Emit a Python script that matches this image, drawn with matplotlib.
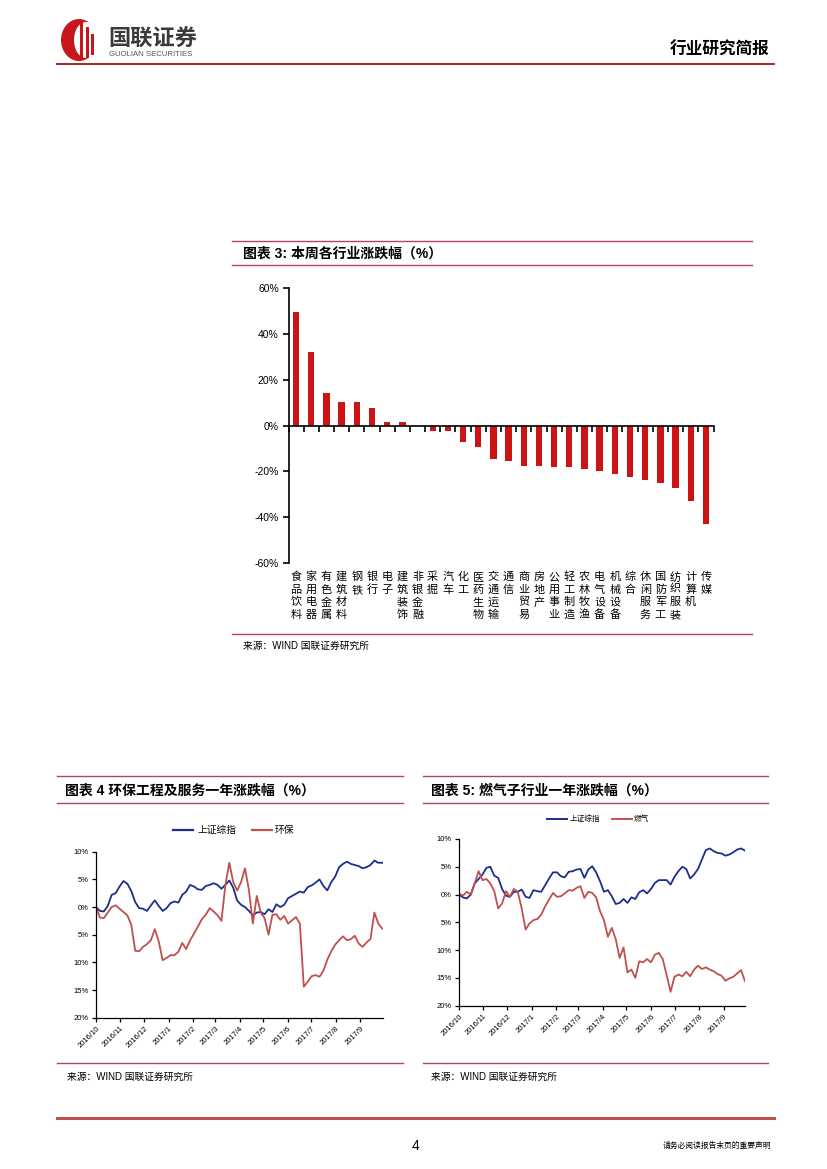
import matplotlib
matplotlib.use('Agg')
import matplotlib.pyplot as plt
from matplotlib.lines import Line2D
from matplotlib.patches import Ellipse, Rectangle
import matplotlib.transforms as mtransforms
import numpy as np
import pandas as pd

plt.rcParams['font.family'] = ['Liberation Sans', 'Noto Sans CJK SC', 'DejaVu Sans']

# ---------------- data ----------------
industries = ['食品饮料', '家用电器', '有色金属', '建筑材料', '钢铁', '银行', '电子', '建筑装饰',
              '非银金融', '采掘', '汽车', '化工', '医药生物', '交通运输', '通信', '商业贸易',
              '房地产', '公用事业', '轻工制造', '农林牧渔', '电气设备', '机械设备', '综合',
              '休闲服务', '国防军工', '纺织服装', '计算机', '传媒']
weekly_change = [49.7, 32.2, 14.3, 10.4, 10.4, 7.8, 1.7, 1.7,
                 0.0, -2.5, -2.5, -7.4, -9.6, -14.7, -15.4, -17.6,
                 -17.6, -18.1, -18.1, -19.0, -19.9, -21.2, -22.5,
                 -24.0, -25.2, -27.4, -33.2, -43.0]
y3_ticks = [-60, -40, -20, 0, 20, 40, 60]

# chart 4: 上证综指 vs 环保 (approx. 5-day samples)
sz4 = [0, -0.7, -0.8, 0.2, 2.2, 2.5, 3.7, 4.7, 4.2, 2.9,
       0.9, -0.2, -0.3, -0.7, 0.3, 1.2, 0.2, -0.7, -0.2, 0.7,
       1.0, 0.8, 2.2, 2.8, 4.0, 3.7, 3.2, 3.1, 3.8, 4.0,
       4.3, 4.0, 3.3, 4.0, 4.8, 3.5, 1.2, 0.4, 0.0, -0.7,
       -1.5, -1.0, -0.9, -1.3, -0.4, -0.9, 0.5, 0.0, 0.4, 1.6,
       2.0, 2.4, 2.8, 2.6, 3.6, 3.9, 4.4, 5.0, 3.8, 3.0,
       4.5, 5.5, 7.2, 7.8, 8.2, 7.8, 7.6, 7.4, 7.0, 7.2,
       7.6, 8.4, 8.0, 8.0]
hb4 = [0, -1.9, -2.0, -1.0, 0.0, 0.3, -0.3, -0.9, -1.5, -3.2,
       -7.9, -8.0, -7.2, -6.7, -6.0, -4.0, -6.2, -9.6, -9.2, -8.7,
       -8.7, -8.1, -6.5, -7.6, -6.0, -4.8, -3.5, -2.2, -1.4, -0.2,
       -0.8, -1.5, -2.5, 4.0, 8.0, 4.5, 3.0, 4.5, 7.0, 3.1,
       -3.0, 2.0, -1.0, -2.0, -5.0, -1.4, -1.3, -2.3, -1.6, -3.0,
       -2.4, -1.8, -3.0, -14.4, -13.5, -12.5, -12.3, -12.6, -11.5, -9.5,
       -8.0, -6.8, -6.0, -5.3, -6.0, -5.8, -5.2, -6.6, -7.2, -6.4,
       -5.8, -1.0, -3.0, -3.9]

# chart 5: 上证综指 vs 燃气
sz5 = [0, -0.5, -0.7, 0.0, 2.0, 2.8, 3.6, 4.8, 5.0, 3.4,
       3.0, 1.0, -0.2, -0.4, 0.5, 0.5, 0.9, -0.4, -0.6, 0.8,
       0.6, 0.5, 1.7, 2.9, 4.0, 4.0, 3.3, 3.1, 4.1, 4.2,
       4.5, 4.6, 3.0, 4.5, 5.1, 4.0, 2.4, 0.5, 0.8, -0.3,
       -1.7, -1.5, -0.8, -1.5, -0.5, -0.8, 0.4, 0.8, 0.2, 1.0,
       2.1, 2.6, 2.6, 2.6, 1.8, 3.2, 4.2, 5.0, 4.6, 2.9,
       3.6, 4.6, 6.3, 8.0, 8.3, 7.8, 7.5, 7.4, 7.0, 7.2,
       7.6, 8.1, 8.3, 7.9]
rq5 = [0.2, -0.2, 0.5, 0.0, 2.0, 4.2, 2.6, 2.8, 2.0, 0.6,
       -2.5, -1.6, 0.6, -0.4, 1.0, 0.5, -2.5, -6.3, -5.2, -4.6,
       -4.4, -3.6, -2.1, -0.9, 0.3, -0.4, -0.3, 0.2, 0.8, 0.7,
       1.2, 1.5, -0.6, 0.5, 0.3, -0.5, -3.0, -4.6, -7.6, -6.0,
       -8.0, -11.4, -9.5, -14.0, -13.5, -15.0, -12.0, -12.2, -11.6, -12.2,
       -10.8, -10.5, -11.6, -14.5, -17.5, -14.8, -14.4, -14.7, -13.9, -14.7,
       -13.5, -12.8, -13.4, -13.1, -13.5, -13.8, -14.3, -14.6, -15.5, -15.1,
       -14.8, -14.2, -13.6, -15.6]

line_ticks = [-20, -15, -10, -5, 0, 5, 10]
line_ticklabels = ['20%', '15%', '10%', '5%', '0%', '5%', '10%']
month_ticks = ['2016-10-01', '2016-11-01', '2016-12-01', '2017-01-01', '2017-02-01', '2017-03-01',
               '2017-04-01', '2017-05-01', '2017-06-01', '2017-07-01', '2017-08-01', '2017-09-01']

# ---------------- styles ----------------
BAR_RED = '#CC1414'
BLUE = '#1C2E8C'
RED = '#C0504D'
PINK = '#B5406E'

W, H = 827, 1169
fig = plt.figure(figsize=(W / 100, H / 100), dpi=100)


def fx(x):
    return x / W


def fy(y):
    return 1 - y / H


def text(x, y, s, **kw):
    fig.text(fx(x), fy(y), s, **kw)


def hline(x1, x2, y, color, lw):
    fig.add_artist(Line2D([fx(x1), fx(x2)], [fy(y), fy(y)], transform=fig.transFigure,
                          color=color, lw=lw))


def add_ax(x1, y1, x2, y2):
    return fig.add_axes([fx(x1), fy(y2), (x2 - x1) / W, (y2 - y1) / H])


# ---------------- header ----------------
fig.add_artist(Ellipse((fx(79), fy(40)), 36 / W, 42 / H, transform=fig.transFigure,
                       color='#C8161D', lw=0))
fig.add_artist(Ellipse((fx(86), fy(40)), 24 / W, 36 / H, transform=fig.transFigure,
                       color='white', lw=0))
for (bx, by1, by2) in [(80, 22, 60), (85.5, 27, 58), (91, 34, 55)]:
    fig.add_artist(Rectangle((fx(bx), fy(by2)), 3 / W, (by2 - by1) / H,
                             transform=fig.transFigure, color='#C8161D', lw=0))
text(108, 39, '国联证券', fontsize=16, weight='bold', color='#3A3A3A', va='center',
     family=['Noto Sans CJK SC'])
text(109, 54, 'GUOLIAN SECURITIES', fontsize=5.6, color='#555555', va='center')
text(769, 50, '行业研究简报', fontsize=12, weight='bold', ha='right', va='center',
     family=['Noto Sans CJK SC'])
hline(57, 774, 64, '#B22222', 1.4)

# ---------------- chart 3 ----------------
hline(232, 752, 241, PINK, 1.0)
hline(232, 752, 265, PINK, 1.0)
text(243, 254, '图表 3: 本周各行业涨跌幅（%）', fontsize=10, weight='bold', va='center')

ax3 = add_ax(288.5, 288.3, 713.5, 562.7)
xpos = np.arange(len(industries))
ax3.bar(xpos, weekly_change, width=0.42, color=BAR_RED, zorder=2)
ax3.set_xlim(-0.5, len(industries) - 0.5)
ax3.set_ylim(-60, 60)
for s in ['top', 'right']:
    ax3.spines[s].set_visible(False)
ax3.spines['bottom'].set_position(('data', 0))
ax3.spines['bottom'].set_linewidth(1.2)
ax3.spines['left'].set_linewidth(1.2)
ax3.set_yticks(y3_ticks)
ax3.set_yticklabels([f'{v}%' for v in y3_ticks], fontsize=7.5)
ax3.set_xticks(np.arange(-0.5, len(industries), 1))
ax3.set_xticklabels([])
ax3.tick_params(axis='x', length=4, width=1.2, direction='out')
ax3.tick_params(axis='y', length=4, width=1.2, direction='out', pad=3)
trans3 = mtransforms.blended_transform_factory(ax3.transData, fig.transFigure)
for i, name in enumerate(industries):
    for j, ch in enumerate(name):
        ax3.text(i, fy(577 + 12.7 * j), ch, transform=trans3, ha='center', va='center',
                 fontsize=8, family=['Noto Sans CJK SC'])
hline(232, 752, 634, PINK, 1.0)
text(243, 646, '来源：WIND 国联证券研究所', fontsize=7, va='center')


# ---------------- line charts ----------------
def line_chart(ax, dates, s1, s2, c2, xmax):
    ax.plot(dates, s1, color=BLUE, lw=1.3)
    ax.plot(dates, s2, color=c2, lw=1.3)
    ax.set_ylim(-20, 10)
    ax.set_xlim(pd.Timestamp('2016-10-01'), pd.Timestamp(xmax))
    for s in ['top', 'right']:
        ax.spines[s].set_visible(False)
    for s in ['left', 'bottom']:
        ax.spines[s].set_linewidth(0.9)
    ax.set_yticks(line_ticks)
    ax.set_yticklabels(line_ticklabels, fontsize=5.5)
    mt = pd.to_datetime(month_ticks)
    ax.set_xticks(mt)
    ax.set_xticklabels([f'{d.year}/{d.month}' for d in mt], fontsize=5.5, rotation=45,
                       ha='right', rotation_mode='anchor')
    ax.tick_params(axis='both', length=3, width=0.9, direction='out', pad=2)


# chart 4
hline(57, 403, 776, PINK, 1.0)
hline(57, 403, 803, PINK, 1.0)
text(65, 791, '图表 4 环保工程及服务一年涨跌幅（%）', fontsize=10, weight='bold', va='center')
hline(173, 193, 830, BLUE, 1.6)
text(198, 830, '上证综指', fontsize=7, va='center', family=['Noto Sans CJK SC'])
hline(252, 272, 830, RED, 1.6)
text(275, 830, '环保', fontsize=7, va='center', family=['Noto Sans CJK SC'])
ax4 = add_ax(96, 851.7, 383, 1017.7)
dates4 = pd.date_range('2016-10-01', '2017-09-29', periods=len(sz4))
line_chart(ax4, dates4, sz4, hb4, RED, '2017-09-30')
hline(57, 403, 1063, PINK, 1.0)
text(67, 1077, '来源：WIND 国联证券研究所', fontsize=7, va='center')

# chart 5
hline(423, 768, 776, PINK, 1.0)
hline(423, 768, 803, PINK, 1.0)
text(431, 791, '图表 5: 燃气子行业一年涨跌幅（%）', fontsize=10, weight='bold', va='center')
hline(547, 567, 819, BLUE, 1.4)
text(570, 819, '上证综指', fontsize=5.5, va='center', family=['Noto Sans CJK SC'])
hline(612, 632, 819, RED, 1.4)
text(634, 819, '燃气', fontsize=5.5, va='center', family=['Noto Sans CJK SC'])
ax5 = add_ax(459, 839, 745, 1005.7)
dates5 = pd.date_range('2016-10-01', '2017-09-28', periods=len(sz5))
line_chart(ax5, dates5, sz5, rq5, RED, '2017-09-28')
hline(423, 768, 1063, PINK, 1.0)
text(431, 1077, '来源：WIND 国联证券研究所', fontsize=7, va='center')

# ---------------- footer ----------------
hline(57, 774, 1118, '#C0504D', 2.2)
text(415, 1146, '4', fontsize=10, ha='center', va='center')
text(771, 1146, '请务必阅读报告末页的重要声明', fontsize=5.6, ha='right', va='center',
     family=['Noto Sans CJK SC'])

fig.savefig('out.png', dpi=100)
